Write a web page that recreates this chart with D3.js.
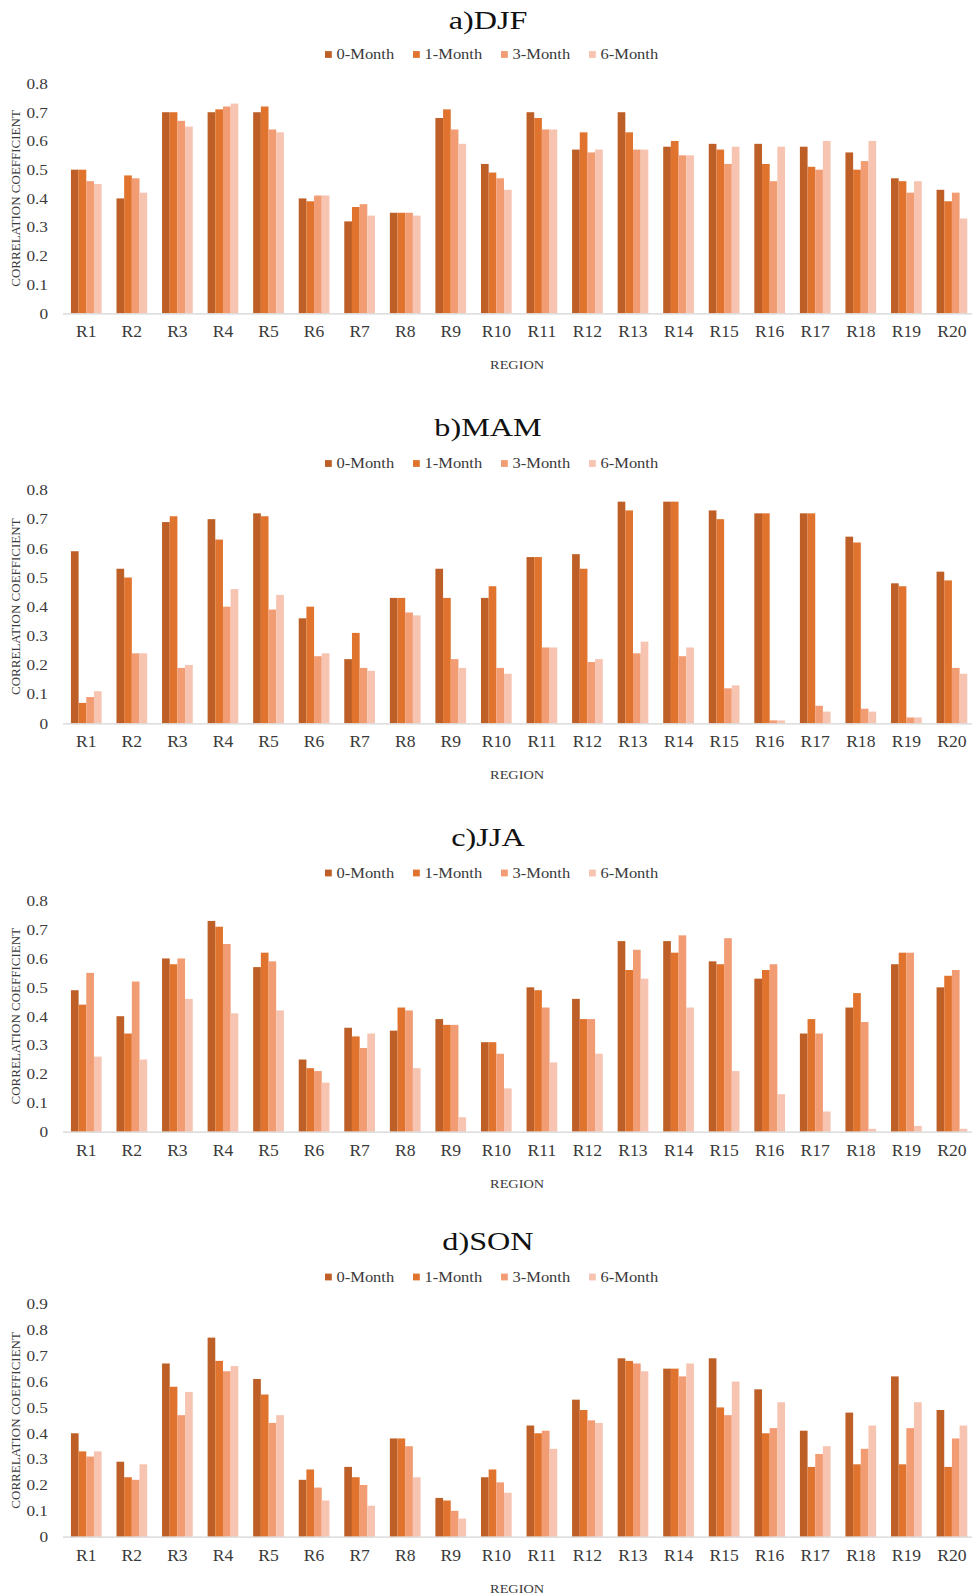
<!DOCTYPE html>
<html>
<head>
<meta charset="utf-8">
<script src="https://cdn.jsdelivr.net/npm/d3@7"></script>
<style>
  body { margin: 0; background: #fff; }
  svg { display: block; }
</style>
</head>
<body>
<svg id="chart" width="972" height="1596"></svg>
<script>
// ---- data ----
const regions = ["R1","R2","R3","R4","R5","R6","R7","R8","R9","R10",
                 "R11","R12","R13","R14","R15","R16","R17","R18","R19","R20"];
const seriesNames = ["0-Month", "1-Month", "3-Month", "6-Month"];
const seriesColors = ["#bd5f27", "#e0732d", "#f29c73", "#f6c4b0"];

const panelTitles = ["a)DJF", "b)MAM", "c)JJA", "d)SON"];
const ticksABC = [0, 0.1, 0.2, 0.3, 0.4, 0.5, 0.6, 0.7, 0.8];
const tickLabelsABC = ["0", "0.1", "0.2", "0.3", "0.4", "0.5", "0.6", "0.7", "0.8"];
const ticksD = [0, 0.1, 0.2, 0.3, 0.4, 0.5, 0.6, 0.7, 0.8, 0.9];
const tickLabelsD = ["0", "0.1", "0.2", "0.3", "0.4", "0.5", "0.6", "0.7", "0.8", "0.9"];

// DJF
const djf0 = [0.50,0.40,0.70,0.70,0.70,0.40,0.32,0.35,0.68,0.52,0.70,0.57,0.70,0.58,0.59,0.59,0.58,0.56,0.47,0.43];
const djf1 = [0.50,0.48,0.70,0.71,0.72,0.39,0.37,0.35,0.71,0.49,0.68,0.63,0.63,0.60,0.57,0.52,0.51,0.50,0.46,0.39];
const djf3 = [0.46,0.47,0.67,0.72,0.64,0.41,0.38,0.35,0.64,0.47,0.64,0.56,0.57,0.55,0.52,0.46,0.50,0.53,0.42,0.42];
const djf6 = [0.45,0.42,0.65,0.73,0.63,0.41,0.34,0.34,0.59,0.43,0.64,0.57,0.57,0.55,0.58,0.58,0.60,0.60,0.46,0.33];
// MAM
const mam0 = [0.59,0.53,0.69,0.70,0.72,0.36,0.22,0.43,0.53,0.43,0.57,0.58,0.76,0.76,0.73,0.72,0.72,0.64,0.48,0.52];
const mam1 = [0.07,0.50,0.71,0.63,0.71,0.40,0.31,0.43,0.43,0.47,0.57,0.53,0.73,0.76,0.70,0.72,0.72,0.62,0.47,0.49];
const mam3 = [0.09,0.24,0.19,0.40,0.39,0.23,0.19,0.38,0.22,0.19,0.26,0.21,0.24,0.23,0.12,0.01,0.06,0.05,0.02,0.19];
const mam6 = [0.11,0.24,0.20,0.46,0.44,0.24,0.18,0.37,0.19,0.17,0.26,0.22,0.28,0.26,0.13,0.01,0.04,0.04,0.02,0.17];
// JJA
const jja0 = [0.49,0.40,0.60,0.73,0.57,0.25,0.36,0.35,0.39,0.31,0.50,0.46,0.66,0.66,0.59,0.53,0.34,0.43,0.58,0.50];
const jja1 = [0.44,0.34,0.58,0.71,0.62,0.22,0.33,0.43,0.37,0.31,0.49,0.39,0.56,0.62,0.58,0.56,0.39,0.48,0.62,0.54];
const jja3 = [0.55,0.52,0.60,0.65,0.59,0.21,0.29,0.42,0.37,0.27,0.43,0.39,0.63,0.68,0.67,0.58,0.34,0.38,0.62,0.56];
const jja6 = [0.26,0.25,0.46,0.41,0.42,0.17,0.34,0.22,0.05,0.15,0.24,0.27,0.53,0.43,0.21,0.13,0.07,0.01,0.02,0.01];
// SON
const son0 = [0.40,0.29,0.67,0.77,0.61,0.22,0.27,0.38,0.15,0.23,0.43,0.53,0.69,0.65,0.69,0.57,0.41,0.48,0.62,0.49];
const son1 = [0.33,0.23,0.58,0.68,0.55,0.26,0.23,0.38,0.14,0.26,0.40,0.49,0.68,0.65,0.50,0.40,0.27,0.28,0.28,0.27];
const son3 = [0.31,0.22,0.47,0.64,0.44,0.19,0.20,0.35,0.10,0.21,0.41,0.45,0.67,0.62,0.47,0.42,0.32,0.34,0.42,0.38];
const son6 = [0.33,0.28,0.56,0.66,0.47,0.14,0.12,0.23,0.07,0.17,0.34,0.44,0.64,0.67,0.60,0.52,0.35,0.43,0.52,0.43];

const seasonValues = [
  [djf0, djf1, djf3, djf6],
  [mam0, mam1, mam3, mam6],
  [jja0, jja1, jja3, jja6],
  [son0, son1, son3, son6]
];
const seasonTicks = [ticksABC, ticksABC, ticksABC, ticksD];
const seasonTickLabels = [tickLabelsABC, tickLabelsABC, tickLabelsABC, tickLabelsD];

// ---- layout ----
const W = 972;
const plotLeft = 63.5, plotRight = 974.7;
// vertical placement of each panel: pixel of the top tick, of zero, of the title and of the legend row
const panelLayout = [
  { top: 83.5,  base: 313.3,  title: 20,    legend: 54.5 },
  { top: 490,   base: 723.3,  title: 427,   legend: 463.5 },
  { top: 900.7, base: 1131.7, title: 837,   legend: 873 },
  { top: 1304,  base: 1536.7, title: 1241,  legend: 1277 }
];
const serif = "'Liberation Serif', 'Times New Roman', Times, serif";
const textColor = "#3a3a3a";

const svg = d3.select("#chart");

const x = d3.scaleBand()
  .domain(regions)
  .range([plotLeft, plotRight])
  .paddingInner(0.326)
  .paddingOuter(0.163);
const xs = d3.scaleBand()
  .domain(seriesNames)
  .range([0, x.bandwidth()]);

panelLayout.forEach((p, pi) => {
  const ticks = seasonTicks[pi];
  const tickLabels = seasonTickLabels[pi];
  const yMax = ticks[ticks.length - 1];
  const y = d3.scaleLinear().domain([0, yMax]).range([p.base, p.top]);
  const g = svg.append("g").attr("class", "panel");

  // title
  g.append("text")
    .attr("transform", `translate(488,${p.title}) scale(1.24,1)`)
    .attr("text-anchor", "middle")
    .attr("dy", "0.33em")
    .attr("font-family", serif)
    .attr("font-size", 26)
    .attr("fill", "#111")
    .text(panelTitles[pi]);

  // legend
  const legend = g.append("g");
  seriesNames.forEach((s, si) => {
    const lx = 325 + si * 88;
    legend.append("rect")
      .attr("x", lx).attr("y", p.legend - 3.4)
      .attr("width", 6.8).attr("height", 6.8)
      .attr("fill", seriesColors[si]);
    legend.append("text")
      .attr("transform", `translate(${lx + 11.5},${p.legend}) scale(1.1,1)`)
      .attr("dy", "0.33em")
      .attr("font-family", serif)
      .attr("font-size", 15)
      .attr("fill", textColor)
      .text(s);
  });

  // bars
  seriesNames.forEach((s, si) => {
    g.append("g").attr("fill", seriesColors[si])
      .selectAll("rect")
      .data(seasonValues[pi][si])
      .join("rect")
      .attr("x", (d, i) => x(regions[i]) + xs(s))
      .attr("y", d => y(d))
      .attr("width", xs.bandwidth())
      .attr("height", d => y(0) - y(d));
  });

  // x axis
  const xAxis = g.append("g")
    .attr("transform", `translate(0,${p.base})`)
    .call(d3.axisBottom(x).tickSize(0).tickPadding(12.5));
  xAxis.select(".domain").remove();
  xAxis.selectAll("text")
    .attr("font-family", serif)
    .attr("font-size", 16)
    .attr("fill", textColor)
    .attr("transform", "scale(1.1,1)");
  g.append("line")
    .attr("x1", 63).attr("x2", W)
    .attr("y1", p.base + 0.5).attr("y2", p.base + 0.5)
    .attr("stroke", "#d4d4d4")
    .attr("stroke-width", 1.3);

  // y axis
  const yAxis = g.append("g")
    .attr("transform", "translate(48,0)")
    .call(d3.axisLeft(y).tickValues(ticks).tickSize(0).tickPadding(0)
      .tickFormat((d, i) => tickLabels[i]));
  yAxis.select(".domain").remove();
  yAxis.selectAll("text")
    .attr("font-family", serif)
    .attr("font-size", 15)
    .attr("fill", textColor)
    .attr("transform", "scale(1.15,1)");

  // axis titles
  g.append("text")
    .attr("transform", `translate(15.5,${(p.top + p.base) / 2}) rotate(-90)`)
    .attr("text-anchor", "middle")
    .attr("dy", "0.35em")
    .attr("font-family", serif)
    .attr("font-size", 13)
    .attr("fill", textColor)
    .text("CORRELATION COEFFICIENT");
  g.append("text")
    .attr("transform", `translate(${(plotLeft + plotRight) / 2 - 2},${p.base + 51.5}) scale(1.1,1)`)
    .attr("text-anchor", "middle")
    .attr("dy", "0.35em")
    .attr("font-family", serif)
    .attr("font-size", 13)
    .attr("fill", textColor)
    .text("REGION");
});
</script>
</body>
</html>
